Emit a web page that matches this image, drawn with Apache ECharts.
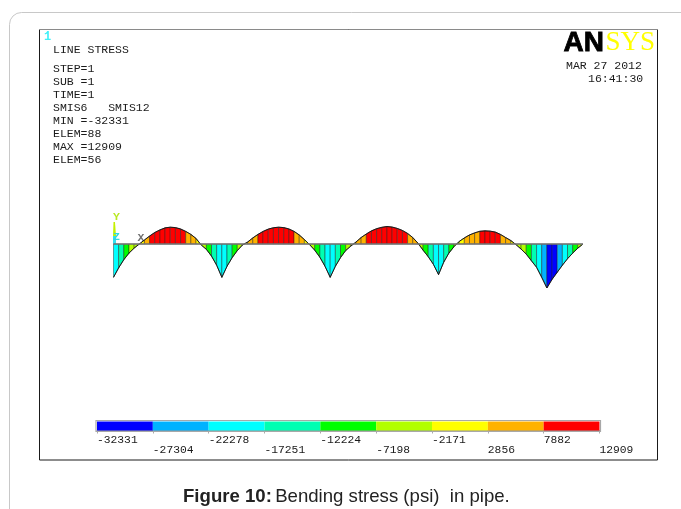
<!DOCTYPE html>
<html><head><meta charset="utf-8">
<style>html,body{margin:0;padding:0;background:#fff}#c{width:681px;height:509px}</style>
<script src="https://cdn.jsdelivr.net/npm/echarts@6/dist/echarts.min.js"></script>
</head><body><div id="c"></div>
<script>
// Line stress (psi) at each node along the pipe
const nodeStress = [
 -24500,-17500,-11500,-6700,-3000,0,3000,5900,8500,10400,11900,12400,12100,11100,9300,7100,4100,-700,-3900,-8900,-15600,
 -24500,-16400,-10000,-4800,-700,1500,4500,7100,9300,11000,12000,12400,12100,11100,9300,6700,3300,-400,-4500,-9700,-16400,
 -24500,-16400,-10000,-4800,-1500,1500,4800,7400,9700,11300,12300,12909,12500,11500,10000,7800,4800,700,-4500,-9300,-14900,
 -22500,-13400,-6700,-1900,1900,4500,6700,8200,9400,9700,9500,8800,7100,4800,2600,-400,-3700,-7400,-12300,-17100,-24500,
 -32331,-26000,-20800,-15600,-10800,-6700,-3000,0];
// Contour band of each element (0 = lowest legend band, 8 = highest)
const elementBand = [
 2,3,4,5,5,6,7,8,8,8,8,8,8,8,7,7,6,5,4,3,2,
 2,3,4,5,6,7,7,8,8,8,8,8,8,8,7,7,6,5,4,3,2,
 2,3,4,5,6,7,7,8,8,8,8,8,8,8,8,7,7,5,4,3,2,
 2,3,4,5,6,7,7,7,8,8,8,8,7,7,6,5,5,4,3,2,1,
 0,0,1,2,3,4,5,5];
const legendLabels = ['-32331','-27304','-22278','-17251','-12224','-7198','-2171','2856','7882','12909'];
const bandColors = ['#0000ff','#00b2ff','#00ffff','#00ffb2','#00ff00','#b2ff00','#ffff00','#ffb200','#ff0000'];
const infoLines = ['STEP=1','SUB =1','TIME=1','SMIS6   SMIS12','MIN =-32331','ELEM=88','MAX =12909','ELEM=56'];
const minStress = -32331, maxStress = 12909;

const mono = '"Liberation Mono", monospace';
const chart = echarts.init(document.getElementById('c'), null, {renderer:'canvas'});
const txt = (x,y,s,o={}) => ({type:'text',x,y,silent:true,style:Object.assign({text:s,fill:'#1a1a1a',font:'11.5px '+mono,textVerticalAlign:'middle'},o)});
const line = (x1,y1,x2,y2,c,w=1) => ({type:'line',silent:true,shape:{x1,y1,x2,y2},style:{stroke:c,lineWidth:w}});

const graphics = [
 {type:'rect',silent:true,shape:{x:9.5,y:12.5,width:720,height:560,r:12},style:{fill:'#fff',stroke:'#c8c8c8',lineWidth:1}},
 {type:'rect',silent:true,shape:{x:39.5,y:29.5,width:618,height:430.5},style:{fill:'#fff',stroke:'#1a1a1a',lineWidth:1}},
 line(39,29.5,658,29.5,'#8a8a8a',1),
 txt(44,37,'1',{fill:'#40f0f8',font:'bold 12px '+mono}),
 txt(53,49.5,'LINE STRESS'),
 txt(566,65.5,'MAR 27 2012'),
 txt(588,78.5,'16:41:30'),
 {type:'text',x:563.5,y:43,silent:true,style:{text:'AN',fill:'#000',stroke:'#000',lineWidth:0.8,font:'900 28px "Liberation Sans", Arial, sans-serif',textVerticalAlign:'middle'}},
 {type:'text',x:605.5,y:43,silent:true,style:{text:'SYS',fill:'#ffff00',font:'27px "Liberation Serif", serif',textVerticalAlign:'middle'}},
 {type:'polygon',silent:true,shape:{points:[[113.5,222],[115,222],[116,236],[113,236]]},style:{fill:'#c4f000'}},
 {type:'rect',silent:true,shape:{x:113,y:236,width:3,height:8},style:{fill:'#30e0f0'}},
 txt(113,217,'Y',{fill:'#b8e820',font:'bold 11.5px '+mono}),
 txt(113,237,'Z',{fill:'#30d8e0',font:'bold 11.5px '+mono}),
 txt(137.5,238,'X',{fill:'#707070',font:'bold 11.5px '+mono}),
 {type:'text',x:183,y:497,silent:true,style:{
   text:'{b|Figure 10:} {n|Bending stress (psi)  in pipe.}',
   rich:{b:{font:'bold 18.6px "Liberation Sans", Arial, sans-serif',fill:'#222'},n:{font:'18.6px "Liberation Sans", Arial, sans-serif',fill:'#222'}},
   textVerticalAlign:'middle'}},
 {type:'rect',silent:true,z:20,shape:{x:96,y:420.5,width:504.5,height:11},style:{fill:null,stroke:'#a8a8a8',lineWidth:1.2}}
];
infoLines.forEach((s,i)=>graphics.push(txt(53,68.5+13*i,s)));

chart.setOption({
 animation:false,
 backgroundColor:'#fff',
 graphic:{elements:graphics},
 grid:[
  {left:113.5,width:469.5,top:226.5,height:61.5,containLabel:false},
  {left:97,width:502.5,top:421.5,height:9,containLabel:false}
 ],
 xAxis:[
  {gridIndex:0,type:'value',min:0,max:nodeStress.length-1,show:false},
  {gridIndex:1,type:'category',boundaryGap:false,data:legendLabels,
   axisLine:{lineStyle:{color:'#777',width:1.5}},
   axisTick:{alignWithLabel:true,length:3,lineStyle:{color:'#aaa'}},
   axisLabel:{interval:0,margin:4,align:'left',showMinLabel:true,showMaxLabel:true,hideOverlap:false,
     fontFamily:'Liberation Mono',fontSize:11.3,color:'#1a1a1a',lineHeight:10.5,verticalAlign:'top',
     formatter:(v,i)=> i%2 ? '\n'+v : v}}
 ],
 yAxis:[
  {gridIndex:0,type:'value',min:minStress,max:maxStress,show:false},
  {gridIndex:1,type:'value',min:0,max:1,show:false}
 ],
 series:[
  {type:'custom',xAxisIndex:0,yAxisIndex:0,silent:true,clip:false,
   data:elementBand.map((b,i)=>[i,nodeStress[i],nodeStress[i+1],b]),
   encode:{x:0,y:1},
   renderItem:(p,api)=>{
     const i=api.value(0),a=api.value(1),b=api.value(2);
     return {type:'polygon',shape:{points:[api.coord([i,0]),api.coord([i,a]),api.coord([i+1,b]),api.coord([i+1,0])]},
       style:{fill:bandColors[api.value(3)],stroke:'#222',lineWidth:0.45}};
   }},
  {type:'line',xAxisIndex:0,yAxisIndex:0,silent:true,symbol:'none',
   data:nodeStress.map((v,i)=>[i,v]),lineStyle:{color:'#1a1a1a',width:1}},
  {type:'line',xAxisIndex:0,yAxisIndex:0,silent:true,symbol:'none',
   data:[[0,0],[nodeStress.length-1,0]],lineStyle:{color:'#777',width:1.4}},
  {type:'custom',xAxisIndex:1,yAxisIndex:1,silent:true,
   data:bandColors.map((c,i)=>[i,i+1]),
   encode:{x:0,y:1},
   renderItem:(p,api)=>{
     const a=api.coord([api.value(0),1]),b=api.coord([api.value(1),0]);
     return {type:'rect',shape:{x:a[0],y:a[1],width:b[0]-a[0],height:b[1]-a[1]},
       style:{fill:bandColors[api.value(0)]}};
   }}
 ]
});
</script></body></html>
